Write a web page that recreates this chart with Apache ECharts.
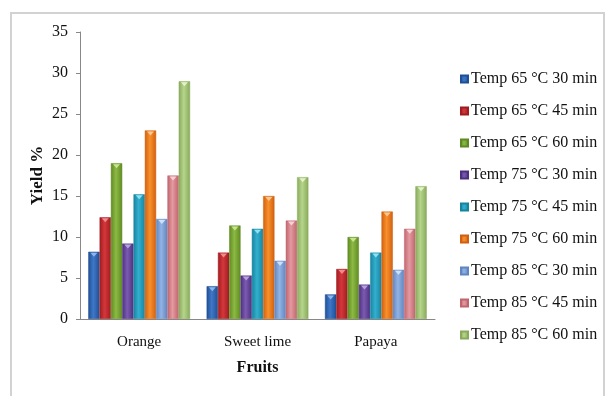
<!DOCTYPE html>
<html>
<head>
<meta charset="utf-8">
<script src="https://cdn.jsdelivr.net/npm/echarts@6/dist/echarts.min.js"></script>
<style>html,body{margin:0;padding:0;background:#fff;}#c{width:609px;height:396px;}</style>
</head>
<body>
<div id="c"></div>
<script>
const categories = ['Orange', 'Sweet lime', 'Papaya'];
const seriesNames = ['Temp 65 °C 30 min','Temp 65 °C 45 min','Temp 65 °C 60 min','Temp 75 °C 30 min','Temp 75 °C 45 min','Temp 75 °C 60 min','Temp 85 °C 30 min','Temp 85 °C 45 min','Temp 85 °C 60 min'];
const t65m30 = [8.2, 4.0, 3.0];
const t65m45 = [12.4, 8.1, 6.1];
const t65m60 = [19.0, 11.4, 10.0];
const t75m30 = [9.2, 5.3, 4.2];
const t75m45 = [15.2, 11.0, 8.1];
const t75m60 = [23.0, 15.0, 13.1];
const t85m30 = [12.2, 7.1, 6.0];
const t85m45 = [17.5, 12.0, 11.0];
const t85m60 = [29.0, 17.3, 16.2];
const yTicks = [0, 5, 10, 15, 20, 25, 30, 35];

const values = [t65m30, t65m45, t65m60, t75m30, t75m45, t75m60, t85m30, t85m45, t85m60];
const colors = [
  ['#1f4f94','#3f78c8','#8fb4ea'],
  ['#a01c20','#d4373b','#f08a8c'],
  ['#5f8a22','#8cba44','#c8e48e'],
  ['#4e3080','#7a5bb0','#b8a0e0'],
  ['#17849e','#33afcf','#8ee0f4'],
  ['#d06010','#f8902c','#ffc890'],
  ['#5f86c0','#92b3e4','#d0e0f8'],
  ['#c0646e','#e39aa0','#f8d0d4'],
  ['#88aa5a','#b6d58c','#e2f2c8']
];
const font = 'Liberation Serif, Times New Roman, serif';

const series = seriesNames.map((n, i) => ({
  name: n,
  type: 'bar',
  data: values[i],
  barGap: '0%',
  barCategoryGap: '14%',
  itemStyle: {
    color: new echarts.graphic.LinearGradient(0, 0, 1, 0, [
      {offset: 0, color: colors[i][0]},
      {offset: 0.45, color: colors[i][1]},
      {offset: 1, color: colors[i][0]}
    ]),
    borderColor: colors[i][0],
    borderWidth: 0.5
  },
  markPoint: {
    symbol: 'triangle',
    symbolRotate: 180,
    symbolSize: [7, 4],
    symbolOffset: [0, 3],
    silent: true,
    label: {show: false},
    itemStyle: {color: colors[i][2]},
    data: values[i].map((v, j) => ({coord: [j, v]}))
  }
}));

const chart = echarts.init(document.getElementById('c'), null, {renderer: 'canvas'});
chart.setOption({
  animation: false,
  color: colors.map(c => c[1]),
  graphic: [{
    type: 'rect', left: 10, top: 12, z: -10,
    shape: {width: 593, height: 400},
    style: {fill: '#fff', stroke: '#d2d2d2', lineWidth: 2}
  }],
  grid: {left: 80, right: 174, top: 32, bottom: 77},
  legend: {
    orient: 'vertical',
    left: 455,
    top: 66,
    itemWidth: 7,
    itemHeight: 7,
    itemGap: 16,
    icon: 'rect',
    textStyle: {fontFamily: font, fontSize: 16, color: '#111', padding: [0,0,0,-2]},
    data: seriesNames
  },
  xAxis: {
    type: 'category',
    data: categories,
    name: 'Fruits',
    nameLocation: 'middle',
    nameGap: 41,
    nameMoveOverlap: false,
    nameTextStyle: {fontFamily: font, fontSize: 16, fontWeight: 'bold', color: '#111'},
    axisLine: {lineStyle: {color: '#888', width: 1}},
    axisTick: {show: false},
    axisLabel: {fontFamily: font, fontSize: 15, color: '#111', margin: 16}
  },
  yAxis: {
    type: 'value',
    min: yTicks[0],
    max: yTicks[yTicks.length - 1],
    interval: 5,
    name: 'Yield %',
    nameLocation: 'middle',
    nameGap: 34,
    nameMoveOverlap: false,
    nameRotate: 90,
    nameTextStyle: {fontFamily: font, fontSize: 17, fontWeight: 'bold', color: '#111'},
    axisLine: {show: true, lineStyle: {color: '#888', width: 1}},
    axisTick: {show: true, length: 4, lineStyle: {color: '#888'}},
    splitLine: {show: false},
    axisLabel: {fontFamily: font, fontSize: 16, color: '#111', margin: 12}
  },
  series: series
});
</script>
</body>
</html>
